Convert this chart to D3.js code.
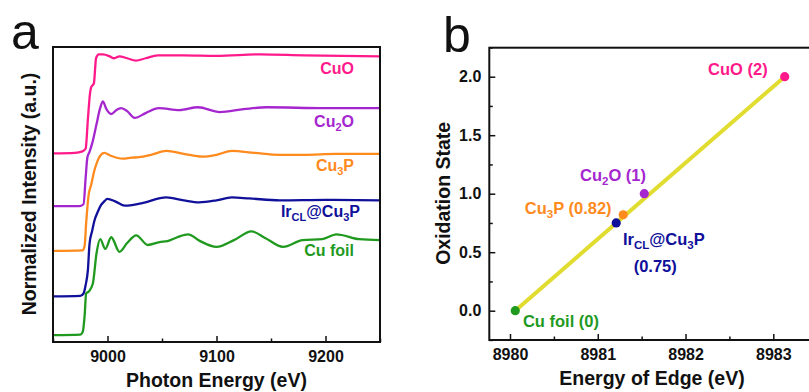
<!DOCTYPE html>
<html>
<head>
<meta charset="utf-8">
<script src="https://cdn.jsdelivr.net/npm/d3@7/dist/d3.min.js"></script>
<style>
  body { margin: 0; background: #fff; }
  svg { display: block; font-family: "Liberation Sans", Arial, sans-serif; }
  .tick text { font-weight: bold; font-size: 16px; fill: #111; }
</style>
</head>
<body>
<svg id="chart" width="809" height="392"></svg>
<script>
// ---------------- DATA ----------------
// Panel a: Cu K-edge XANES (photon energy eV, normalized intensity)
const cuFoilXanes = [[8950,0],[8975,0.005],[8977.3,0.035],[8979,0.2],[8980.4,0.43],[8982.8,0.45],[8986.5,0.53],[8990,0.85],[8993.3,0.99],[8998,0.89],[9003.4,1.01],[9011,0.86],[9018,0.95],[9026.3,1.03],[9037,0.93],[9047.7,0.96],[9055,0.97],[9064,1.01],[9074,1.04],[9085,0.97],[9100,0.91],[9116,0.98],[9132,1.07],[9145,1.0],[9161,0.91],[9179,0.98],[9197,0.99],[9210,1.04],[9231,0.99],[9250,0.98]];
const irCu3PXanes = [[8950,0],[8975,0.005],[8978,0.03],[8980,0.12],[8982,0.27],[8983.5,0.54],[8986,0.68],[8988,0.78],[8991,0.87],[8994,0.94],[8997,0.98],[9000,1.005],[9007,0.98],[9016,0.935],[9031,0.96],[9054,1.02],[9070,0.99],[9084,0.97],[9100,0.99],[9114,1.02],[9130,1.01],[9158,0.99],[9200,0.995],[9250,0.99]];
const cu3PXanes = [[8950,0],[8977,0.005],[8979,0.05],[8980.5,0.3],[8982.6,0.57],[8985,0.68],[8988,0.83],[8991,0.93],[8994,0.99],[8997,1.01],[9003,0.98],[9014,0.95],[9022,0.96],[9029,0.965],[9040,0.99],[9054,1.03],[9070,1.0],[9087,0.97],[9100,0.99],[9114,1.03],[9135,1.01],[9158,0.99],[9180,0.99],[9210,1.0],[9250,1.0]];
const cu2OXanes = [[8950,0],[8974,0.0],[8978,0.02],[8980,0.3],[8981.5,0.5],[8983.5,0.56],[8986,0.65],[8990,0.85],[8993,1.0],[8995.7,1.08],[8999,1.0],[9003.4,0.95],[9008,0.99],[9012.5,1.01],[9018,0.98],[9025,0.91],[9035,0.96],[9047,1.01],[9066,0.99],[9083,1.02],[9103,0.97],[9125,1.0],[9146,1.02],[9200,1.01],[9250,1.01]];
const cuOXanes = [[8950,0],[8970,0.005],[8977,0.02],[8980,0.05],[8982,0.35],[8984,0.62],[8985,0.68],[8987.5,0.72],[8989.5,0.98],[8992,1.02],[8996,1.02],[9002,1.0],[9006,0.98],[9011,1.0],[9018,0.98],[9026,0.955],[9035,0.98],[9046,1.01],[9070,1.01],[9100,1.005],[9140,1.02],[9180,1.01],[9250,1.0]];
const xanesSeries = ["Cu foil", "IrCL@Cu3P", "Cu3P", "Cu2O", "CuO"];
const xanesOffsets = [0, 0.40, 0.87, 1.33, 1.875];
const xanesTicks = [9000, 9100, 9200];
const xanesMinorTicks = [8950, 9050, 9150, 9250];

// Panel b: edge energy vs oxidation state
const edgeSamples = ["Cu foil", "IrCL@Cu3P", "Cu3P", "Cu2O", "CuO"];
const edgeEnergy = [8980.06, 8981.21, 8981.29, 8981.53, 8983.13];
const oxidationState = [0, 0.75, 0.82, 1, 2];
const edgeLabels = ["Cu foil (0)", "IrCL@Cu3P", "Cu3P (0.82)", "Cu2O (1)", "CuO (2)"];
const fitEnergy = [8980.06, 8983.13];
const fitState = [0, 2];
const edgeTicks = [8980, 8981, 8982, 8983];
const edgeMinorTicks = [8980.5, 8981.5, 8982.5];
const stateTicks = [0, 0.5, 1.0, 1.5, 2.0];
const stateMinorTicks = [-0.25, 0.25, 0.75, 1.25, 1.75, 2.25];

// ---------------- STYLE ----------------
const colors = {"Cu foil": "#1f9a1f", "IrCL@Cu3P": "#10109a", "Cu3P": "#ff8a1e", "Cu2O": "#a526cf", "CuO": "#ff1a8c"};
const fitColor = "#e0dc30";

const svg = d3.select("#chart");

// rich label with subscripts
function richText(sel, label, size, subSize) {
  const parts = {
    "Cu foil": [["Cu foil", 0]],
    "IrCL@Cu3P": [["Ir",0],["CL",1],["@Cu",0],["3",1],["P",0]],
    "Cu3P": [["Cu",0],["3",1],["P",0]],
    "Cu2O": [["Cu",0],["2",1],["O",0]],
    "CuO": [["CuO",0]],
    "Cu foil (0)": [["Cu foil (0)",0]],
    "Cu3P (0.82)": [["Cu",0],["3",1],["P (0.82)",0]],
    "Cu2O (1)": [["Cu",0],["2",1],["O (1)",0]],
    "CuO (2)": [["CuO (2)",0]]
  }[label];
  let prevSub = 0;
  parts.forEach(([t, sub]) => {
    const ts = sel.append("tspan").text(t);
    if (sub) ts.attr("font-size", subSize);
    const dy = (sub ? 4 : 0) - (prevSub ? 4 : 0);
    if (dy !== 0) ts.attr("dy", dy);
    prevSub = sub;
  });
}

// ---------------- PANEL A ----------------
const A = {left: 53, right: 380, top: 47, bottom: 342};
const xA = d3.scaleLinear().domain([8950, 9250]).range([A.left, A.right]);
const yA = d3.scaleLinear().domain([-0.07, 2.971]).range([A.bottom, A.top]);
const seriesData = [cuFoilXanes, irCu3PXanes, cu3PXanes, cu2OXanes, cuOXanes];

const gA = svg.append("g");
gA.append("defs").append("clipPath").attr("id", "clipA").append("rect")
  .attr("x", A.left).attr("y", A.top).attr("width", A.right - A.left).attr("height", A.bottom - A.top);

const lineA = d3.line().curve(d3.curveMonotoneX);
seriesData.forEach((data, i) => {
  const name = xanesSeries[i];
  gA.append("path")
    .attr("clip-path", "url(#clipA)")
    .attr("d", lineA(data.map(d => [xA(d[0]), yA(d[1] + xanesOffsets[i])])))
    .attr("fill", "none")
    .attr("stroke", colors[name])
    .attr("stroke-width", 2.3)
    .attr("stroke-linejoin", "round");
  const t = gA.append("text")
    .attr("x", name === "IrCL@Cu3P" ? 360 : 354)
    .attr("y", yA(xanesOffsets[i] + 1) + 17.5)
    .attr("text-anchor", "end")
    .attr("font-weight", "bold")
    .attr("font-size", 16)
    .attr("fill", colors[name]);
  richText(t, name, 16, 11);
});

const axA = gA.append("g").attr("transform", `translate(0,${A.bottom})`)
  .call(d3.axisBottom(xA).tickValues(xanesTicks).tickFormat(d3.format("d")).tickSize(-6).tickPadding(8.5));
axA.select(".domain").remove();
axA.selectAll(".tick line").attr("stroke", "#111").attr("stroke-width", 1.5);
const axAm = gA.append("g").attr("transform", `translate(0,${A.bottom})`)
  .call(d3.axisBottom(xA).tickValues(xanesMinorTicks).tickFormat("").tickSize(-3.5));
axAm.select(".domain").remove();
axAm.selectAll(".tick line").attr("stroke", "#111").attr("stroke-width", 1.5);

gA.append("rect").attr("x", A.left).attr("y", A.top).attr("width", A.right - A.left).attr("height", A.bottom - A.top)
  .attr("fill", "none").attr("stroke", "#111").attr("stroke-width", 2);

gA.append("text").attr("x", (A.left + A.right) / 2).attr("y", 386.5).attr("text-anchor", "middle")
  .attr("font-weight", "bold").attr("font-size", 19.5).attr("fill", "#111").text("Photon Energy (eV)");
gA.append("text").attr("transform", `translate(36,194) rotate(-90)`).attr("text-anchor", "middle")
  .attr("font-weight", "bold").attr("font-size", 19.5).attr("fill", "#111").text("Normalized Intensity (a.u.)");
gA.append("text").attr("x", 11).attr("y", 48.5).attr("font-size", 50).attr("fill", "#111").text("a");

// ---------------- PANEL B ----------------
const B = {left: 489.3, top: 47.7, bottom: 340};
const xB = d3.scaleLinear().domain([8980, 8983]).range([510, 773.3]);
const yB = d3.scaleLinear().domain([0, 2]).range([310.7, 76.7]);
const B_right = 812;

const gB = svg.append("g");
gB.append("line")
  .attr("x1", xB(fitEnergy[0])).attr("y1", yB(fitState[0]))
  .attr("x2", xB(fitEnergy[1])).attr("y2", yB(fitState[1]))
  .attr("stroke", fitColor).attr("stroke-width", 4);

edgeSamples.forEach((name, i) => {
  gB.append("circle").attr("cx", xB(edgeEnergy[i])).attr("cy", yB(oxidationState[i]))
    .attr("r", 4.6).attr("fill", colors[name]);
});

// label placement relative to points
const labelPlace = {
  "Cu foil": {dx: 7.7, dy: 16, anchor: "start"},
  "IrCL@Cu3P": {dx: 6.7, dy: 22, anchor: "start"},
  "Cu3P": {dx: -11.6, dy: -1, anchor: "end"},
  "Cu2O": {dx: 1.7, dy: -12.5, anchor: "end"},
  "CuO": {dx: -17, dy: -1.5, anchor: "end"}
};
edgeSamples.forEach((name, i) => {
  const p = labelPlace[name];
  const px = xB(edgeEnergy[i]), py = yB(oxidationState[i]);
  const t = gB.append("text").attr("x", px + p.dx).attr("y", py + p.dy)
    .attr("text-anchor", p.anchor).attr("font-weight", "bold").attr("font-size", 16.5)
    .attr("fill", colors[name]);
  richText(t, edgeLabels[i], 16.5, 11.5);
  if (name === "IrCL@Cu3P") {
    gB.append("text").attr("x", px + 39).attr("y", py + 48.6).attr("text-anchor", "middle")
      .attr("font-weight", "bold").attr("font-size", 16.5).attr("fill", colors[name])
      .text("(" + oxidationState[i].toFixed(2) + ")");
  }
});

const axBx = gB.append("g").attr("transform", `translate(0,${B.bottom})`)
  .call(d3.axisBottom(xB).tickValues(edgeTicks).tickFormat(d3.format("d")).tickSize(-6).tickPadding(8.6));
axBx.select(".domain").remove();
axBx.selectAll(".tick line").attr("stroke", "#111").attr("stroke-width", 1.5);
const axBxm = gB.append("g").attr("transform", `translate(0,${B.bottom})`)
  .call(d3.axisBottom(xB).tickValues(edgeMinorTicks).tickFormat("").tickSize(-3.5));
axBxm.select(".domain").remove();
axBxm.selectAll(".tick line").attr("stroke", "#111").attr("stroke-width", 1.5);

const axBy = gB.append("g").attr("transform", `translate(${B.left},0)`)
  .call(d3.axisLeft(yB).tickValues(stateTicks).tickFormat(d3.format(".1f")).tickSize(-6).tickPadding(8));
axBy.select(".domain").remove();
axBy.selectAll(".tick line").attr("stroke", "#111").attr("stroke-width", 1.5);
const axBym = gB.append("g").attr("transform", `translate(${B.left},0)`)
  .call(d3.axisLeft(yB).tickValues(stateMinorTicks).tickFormat("").tickSize(-3.5));
axBym.select(".domain").remove();
axBym.selectAll(".tick line").attr("stroke", "#111").attr("stroke-width", 1.5);

gB.append("rect").attr("x", B.left).attr("y", B.top).attr("width", B_right - B.left).attr("height", B.bottom - B.top)
  .attr("fill", "none").attr("stroke", "#111").attr("stroke-width", 2);

gB.append("text").attr("x", 652).attr("y", 384.5).attr("text-anchor", "middle")
  .attr("font-weight", "bold").attr("font-size", 19.5).attr("fill", "#111").text("Energy of Edge (eV)");
gB.append("text").attr("transform", `translate(449.5,193.3) rotate(-90)`).attr("text-anchor", "middle")
  .attr("font-weight", "bold").attr("font-size", 19.5).attr("fill", "#111").text("Oxidation State");
gB.append("text").attr("x", 443).attr("y", 51.5).attr("font-size", 50).attr("fill", "#111").text("b");
</script>
</body>
</html>
